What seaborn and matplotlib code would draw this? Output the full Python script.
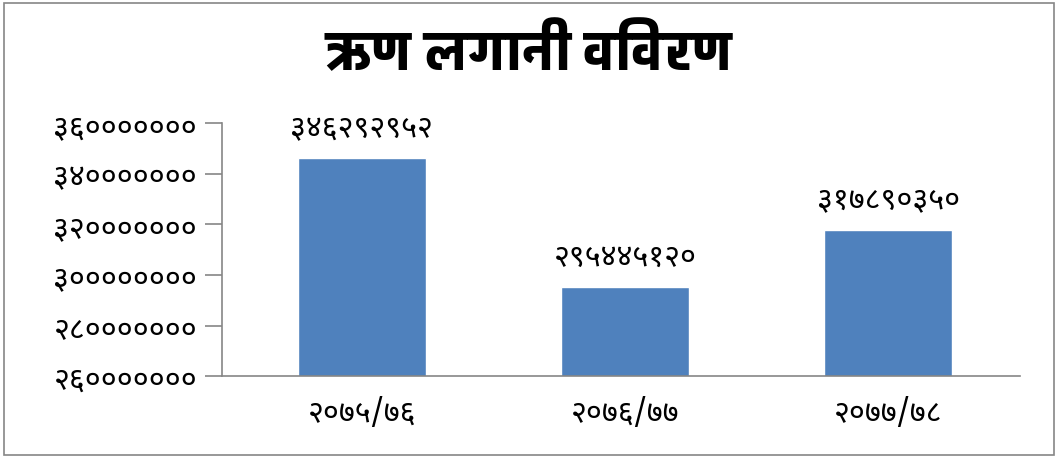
import matplotlib
matplotlib.use("Agg")
import matplotlib.pyplot as plt
import seaborn as sns
import pandas as pd
from matplotlib import font_manager

# données
years = ["२०७५/७६", "२०७६/७७", "२०७७/७८"]
amounts = [346292952, 295445120, 317890350]
y_ticks = [260000000, 280000000, 300000000, 320000000, 340000000, 360000000]
title = "ऋण लगानी विवरण"

DEVA_DIGITS = str.maketrans("0123456789", "०१२३४५६७८९")

def deva(n):
    return str(n).translate(DEVA_DIGITS)

# polices devanagari disponibles
names = {f.name for f in font_manager.fontManager.ttflist}
wanted = ["Noto Sans Devanagari", "Mukta", "Hind", "Poppins", "Annapurna SIL"]
deva_font = next((n for n in wanted if n in names), None)
title_font = next((n for n in ["Biryani", "Mukta", "Noto Sans Devanagari"] if n in names), deva_font)

sns.set_style("white")
plt.rcParams["font.family"] = ([deva_font] if deva_font else []) + ["DejaVu Sans"]
plt.rcParams["text.color"] = "black"
plt.rcParams["xtick.color"] = "black"
plt.rcParams["ytick.color"] = "black"

df = pd.DataFrame({"year": years, "amount": amounts})

fig = plt.figure(figsize=(10.58, 4.60), dpi=100)
ax = fig.add_axes([0.21, 0.18, 0.754, 0.55])
sns.barplot(data=df, x="year", y="amount", color="#4F81BD", saturation=1,
            width=0.485, ax=ax)

ax.set_ylim(260000000, 360000000)
ax.set_xlim(-0.53, 2.5)
ax.set_yticks(y_ticks)
ax.set_yticklabels([deva(v) for v in y_ticks], fontsize=22)
ax.set_xticks(range(len(years)))
ax.set_xticklabels(years, fontsize=22)
ax.set_xlabel("")
ax.set_ylabel("")

for i, v in enumerate(amounts):
    ax.text(i, v + 6000000, deva(v), ha="center", va="bottom", fontsize=22)

sns.despine(ax=ax)
for s in ["left", "bottom"]:
    ax.spines[s].set_color("#868686")
    ax.spines[s].set_linewidth(1.2)
ax.tick_params(axis="y", length=12, width=1.2, color="#868686", labelcolor="black",
               direction="out", left=True, pad=6)
ax.tick_params(axis="x", length=0, pad=15, labelcolor="black")

fig.text(0.5, 0.885, title, ha="center", va="center", fontsize=39,
         fontweight=900, family=[title_font, "DejaVu Sans"])

# cadre extérieur
fig.patches.append(plt.Rectangle((0.004, 0.008), 0.992, 0.984, transform=fig.transFigure,
                                 fill=False, edgecolor="#868686", linewidth=1.2))

fig.savefig("out.png", dpi=100)
